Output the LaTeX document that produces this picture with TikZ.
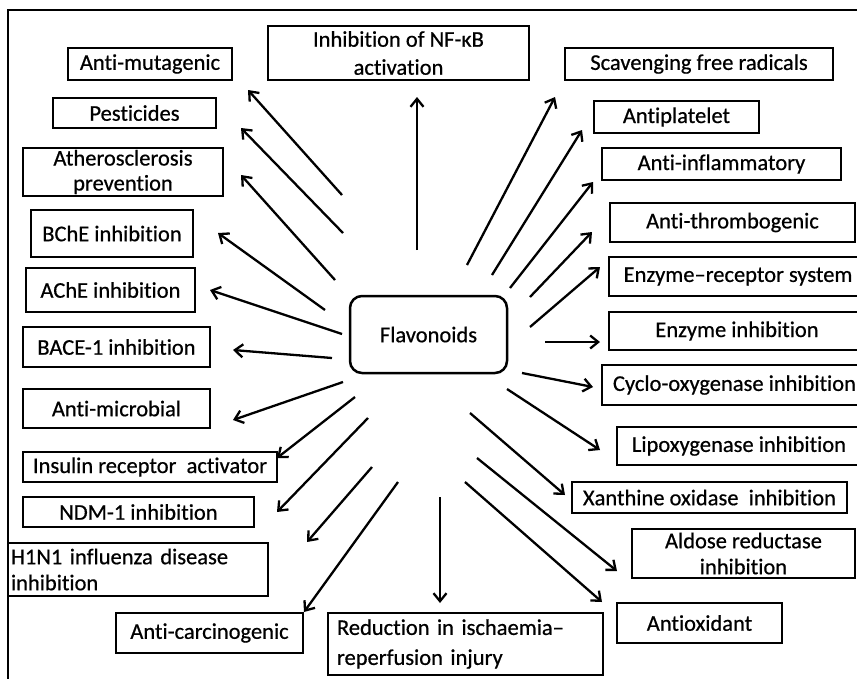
\documentclass[tikz,border=0pt]{standalone}
\usepackage{fontspec}
\setmainfont{Carlito}[Ligatures=NoCommon, FakeBold=0.6]
\usetikzlibrary{arrows.meta}
\begin{document}
\begin{tikzpicture}[x=1pt,y=-1pt,
  box/.style={draw=black, line width=2.5pt, inner sep=0pt, align=center,
    font=\fontsize{22.5}{26}\selectfont, text=black},
  arr/.style={line width=2.3pt, -{Straight Barb[length=8pt,width=13pt,line width=2.3pt]}},
  ]
\useasboundingbox (0,0) rectangle (857,678);
\clip (0,0) rectangle (857,678);
% outer frame
\draw[line width=2.4pt] (8,690) -- (8,10) -- (870,10);

% left column
\node[box, minimum width=164, minimum height=32] (mut) at (150,64) {Anti-mutagenic};
\node[box, minimum width=163, minimum height=30] (pest) at (134.5,113) {Pesticides};
\node[box, minimum width=200, minimum height=48, font=\fontsize{22.5}{25}\selectfont] (ath) at (123,172) {Atherosclerosis\\prevention};
\node[box, minimum width=162, minimum height=47] (bche) at (112,233.5) {BChE inhibition};
\node[box, minimum width=169, minimum height=44] (ache) at (110.5,290) {AChE inhibition};
\node[box, minimum width=187, minimum height=40] (bace) at (116.5,347) {BACE-1 inhibition};
\node[box, minimum width=187, minimum height=39] (micro) at (116.5,408.5) {Anti-microbial};
\node[box, minimum width=254, minimum height=30] (ins) at (150,467) {Insulin receptor\ \ activator};
\node[box, minimum width=231, minimum height=30] (ndm) at (138.5,512) {NDM-1 inhibition};
\node[box, align=left, text width=254, inner xsep=3, minimum height=53] (h1n1) at (138,569.5) {H1N1 influenza disease\\inhibition};
\node[box, minimum width=187, minimum height=40] (carc) at (209.5,633) {Anti-carcinogenic};
\node[box, align=left, text width=257, inner xsep=9, minimum height=62, font=\fontsize{22.5}{30}\selectfont] (isch) at (465.5,644) {Reduction in ischaemia–\\reperfusion injury};

% top
\node[box, minimum width=261, minimum height=54, font=\fontsize{22.5}{28}\selectfont] (nfkb) at (398.5,53) {Inhibition of NF-κB\\activation};

% right column
\node[box, minimum width=268, minimum height=32] (scav) at (699,64) {Scavenging free radicals};
\node[box, minimum width=165, minimum height=32] (plat) at (676.5,117) {Antiplatelet};
\node[box, minimum width=239, minimum height=32] (inflam) at (721.5,164) {Anti-inflammatory};
\node[box, minimum width=245, minimum height=39] (thromb) at (732.5,222.5) {Anti-thrombogenic};
\node[box, minimum width=258, minimum height=39] (erec) at (738,276.5) {Enzyme–receptor system};
\node[box, minimum width=256, minimum height=38] (enz) at (737,331) {Enzyme inhibition};
\node[box, minimum width=265, minimum height=40] (cox) at (734.5,385) {Cyclo-oxygenase inhibition};
\node[box, minimum width=244, minimum height=38] (lox) at (739,446) {Lipoxygenase inhibition};
\node[box, minimum width=275, minimum height=31] (xan) at (709.5,497.5) {Xanthine oxidase\ \ inhibition};
\node[box, minimum width=223, minimum height=49] (ald) at (743.5,553.5) {Aldose reductase\\inhibition};
\node[box, minimum width=165, minimum height=40] (antiox) at (699.5,623) {Antioxidant};

% centre
\node[box, rounded corners=12pt, minimum width=157, minimum height=77] (flav) at (428.5,334.5) {Flavonoids};

% arrows
\foreach \n/\a/\b/\c/\d in {
  nf/417/250/417/97,
  mu/342/195/248/90,
  pe/343/233/241/128,
  at/335/280/241/175,
  bc/325/310/218/233,
  ac/342/334/210/290,
  ba/332/358/233/350,
  mi/343/382/233/420,
  in/355/397/277/458,
  nd/368/418/277/512,
  hn/372/467/307/542,
  ca/398/482/304/612,
  is/440/497/440/603,
  sc/467/265/555/97,
  pl/492/275/582/130,
  if/510/288/593/182,
  th/530/297/592/232,
  er/530/327/600/267,
  ez/545/342/600/342,
  co/522/373/593/387,
  lo/507/389/600/450,
  xa/470/413/565/495,
  al/477/458/617/571,
  ao/465/482/602/602}{
  \coordinate (s\n) at (\a,\b);
  \coordinate (e\n) at (\c,\d);
  \draw[arr] (s\n) -- (e\n);
}
\end{tikzpicture}
\end{document}
